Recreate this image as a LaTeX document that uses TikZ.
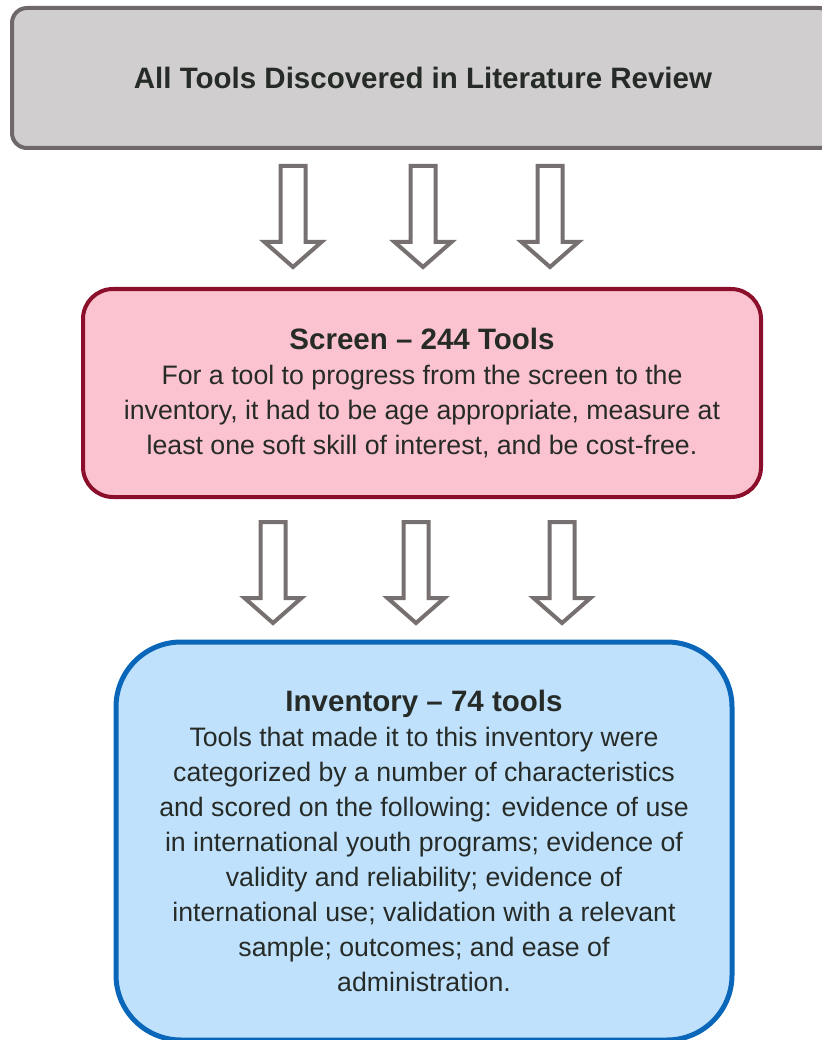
\documentclass[tikz,border=0pt]{standalone}
\usepackage{fontspec}
\setmainfont{Liberation Sans}
\definecolor{txtdark}{HTML}{262B27}
\definecolor{topfill}{HTML}{D0CECF}
\definecolor{topline}{HTML}{6E6868}
\definecolor{screenfill}{HTML}{FBC3CF}
\definecolor{screenline}{HTML}{8B0F2A}
\definecolor{invfill}{HTML}{BFE1FC}
\definecolor{invline}{HTML}{0A66B8}
\definecolor{arrgray}{HTML}{767170}
\newcommand{\boxhead}[1]{{\fontsize{29.5}{35}\selectfont\bfseries #1}}
\tikzstyle{stagebox} = [rectangle, draw, line width=4pt, align=center, text=txtdark,
  font=\fontsize{26.7}{35}\selectfont, inner sep=0pt]
\tikzstyle{hollow} = [draw=arrgray, line width=4pt, fill=white]
% hollow down arrow: #1 = centre x, #2 = top y
\newcommand{\hollowarrow}[2]{%
  \draw [hollow] (#1-12.5,#2) -- (#1+12.5,#2) -- (#1+12.5,#2+76) -- (#1+28.5,#2+76)
    -- (#1,#2+101) -- (#1-28.5,#2+76) -- (#1-12.5,#2+76) -- cycle;}
\begin{document}
\begin{tikzpicture}[x=1pt,y=-1pt]

    \useasboundingbox (0,0) rectangle (821,1040);

    \node [stagebox, fill=topfill, draw=topline, rounded corners=15pt,
      minimum width=822pt, minimum height=140pt] at (423,78) (alltools)
      {\boxhead{All Tools Discovered in Literature Review}};

    \node [stagebox, fill=screenfill, draw=screenline, rounded corners=30pt,
      minimum width=678pt, minimum height=208pt] at (422,393) (screen)
      {\boxhead{Screen – 244 Tools}\\
       For a tool to progress from the screen to the\\
       inventory, it had to be age appropriate, measure at\\
       least one soft skill of interest, and be cost-free.};

    \node [stagebox, fill=invfill, draw=invline, line width=5pt, rounded corners=65pt,
      minimum width=616pt, minimum height=398pt] at (424,841) (inventory)
      {\boxhead{Inventory – 74 tools}\\
       Tools that made it to this inventory were\\
       categorized by a number of characteristics\\
       and scored on the following: evidence of use\\
       in international youth programs; evidence of\\
       validity and reliability; evidence of\\
       international use; validation with a relevant\\
       sample; outcomes; and ease of\\
       administration.};

    \hollowarrow{293}{166}
    \hollowarrow{423}{166}
    \hollowarrow{550}{166}

    \hollowarrow{273}{522}
    \hollowarrow{416}{522}
    \hollowarrow{562}{522}

\end{tikzpicture}
\end{document}
